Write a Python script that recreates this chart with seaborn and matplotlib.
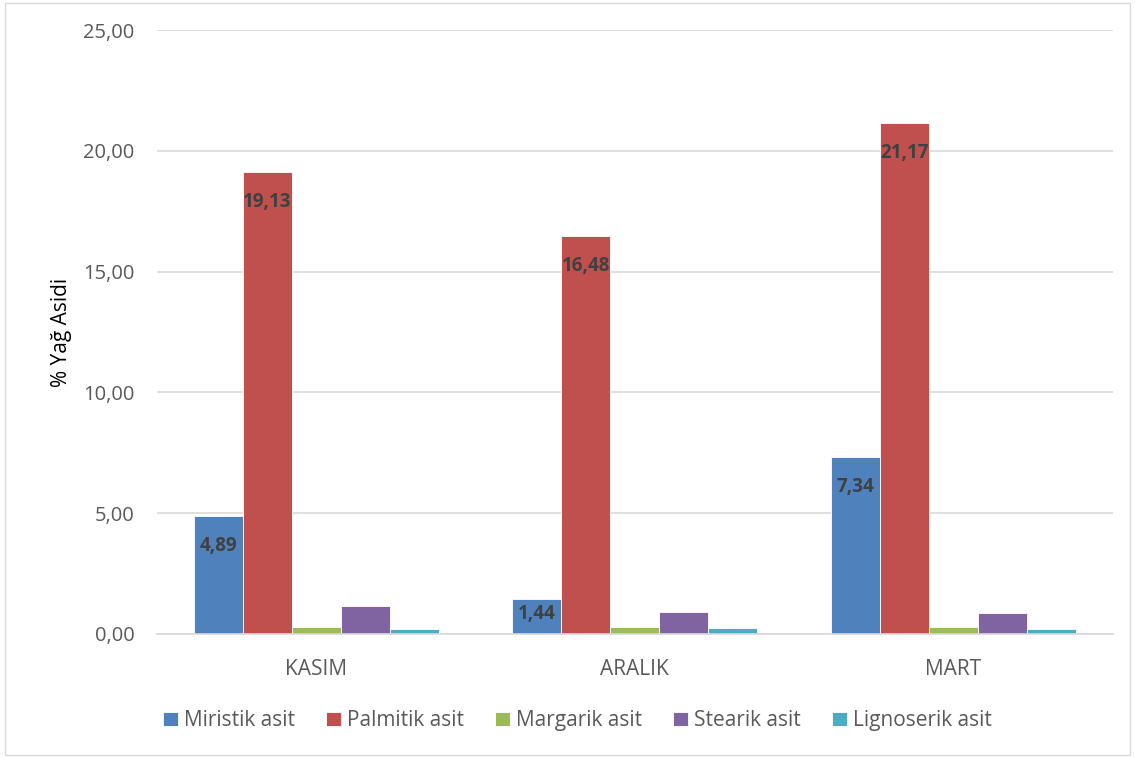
import matplotlib
matplotlib.use("Agg")
import matplotlib.pyplot as plt
import seaborn as sns
import pandas as pd

categories = ["KASIM", "ARALIK", "MART"]
series = ["Miristik asit", "Palmitik asit", "Margarik asit", "Stearik asit", "Lignoserik asit"]
miristik = [4.89, 1.44, 7.34]
palmitik = [19.13, 16.48, 21.17]
margarik = [0.28, 0.29, 0.28]
stearik = [1.16, 0.92, 0.86]
lignoserik = [0.19, 0.25, 0.19]
yticks = [0, 5, 10, 15, 20, 25]
colors = ["#4F81BD", "#C0504D", "#9BBB59", "#8064A2", "#4BACC6"]

values = [miristik, palmitik, margarik, stearik, lignoserik]
rows = []
for s, vals in zip(series, values):
    for c, v in zip(categories, vals):
        rows.append({"Ay": c, "Asit": s, "Deger": v})
df = pd.DataFrame(rows)

sns.set_theme(style="white")
plt.rcParams['font.family'] = ["Open Sans", "DejaVu Sans"]

fig = plt.figure(figsize=(11.35, 7.58), dpi=100)
ax = fig.add_axes([0.1383, 0.1636, 0.8419, 0.7968])

sns.barplot(data=df, x="Ay", y="Deger", hue="Asit", order=categories,
            hue_order=series, palette=colors, width=0.77, gap=0,
            saturation=1, ax=ax, errorbar=None, edgecolor="white", linewidth=0.6)

ax.set_ylim(0, 25)
ax.set_yticks(yticks)
ax.set_yticklabels([f"{t:.2f}".replace(".", ",") for t in yticks])
ax.yaxis.grid(True, color="#D9D9D9", linewidth=1.2)
ax.set_axisbelow(True)
for sp in ["top", "right", "left"]:
    ax.spines[sp].set_visible(False)
ax.spines["bottom"].set_color("#D9D9D9")
ax.spines["bottom"].set_linewidth(1.2)
ax.tick_params(axis="y", length=0, labelsize=14.5, colors="#595959", pad=16)
ax.tick_params(axis="x", length=0, labelsize=15, colors="#595959", pad=18)
ax.set_xlabel("")
ax.set_ylabel("% Yağ Asidi", fontsize=15, color="black", labelpad=8)
ax.set_xlim(-0.5, 2.5)

for i, cont in enumerate(ax.containers[:2]):
    labels = [f"{v:.2f}".replace(".", ",") for v in values[i]]
    for patch, lab in zip(cont.patches, labels):
        h = patch.get_height()
        xc = patch.get_x() + patch.get_width() / 2
        off = -29 if h > 3 else -18
        ax.annotate(lab, (xc, h), xytext=(0, off), textcoords="offset points",
                    ha="center", va="bottom", fontsize=13.5,
                    fontweight="bold", color="#404040")

handles, labs = ax.get_legend_handles_labels()
ax.legend(handles, labs, loc="upper center", bbox_to_anchor=(0.44, -0.095),
          ncol=5, frameon=False, fontsize=15, handlelength=0.7, handleheight=0.7,
          handletextpad=0.3, columnspacing=1.5, labelcolor="#595959")

border = plt.Rectangle((0.004, 0.004), 0.992, 0.992, transform=fig.transFigure,
                       fill=False, edgecolor="#D9D9D9", linewidth=1)
fig.patches.append(border)

fig.savefig("out.png", dpi=100, facecolor="white")
